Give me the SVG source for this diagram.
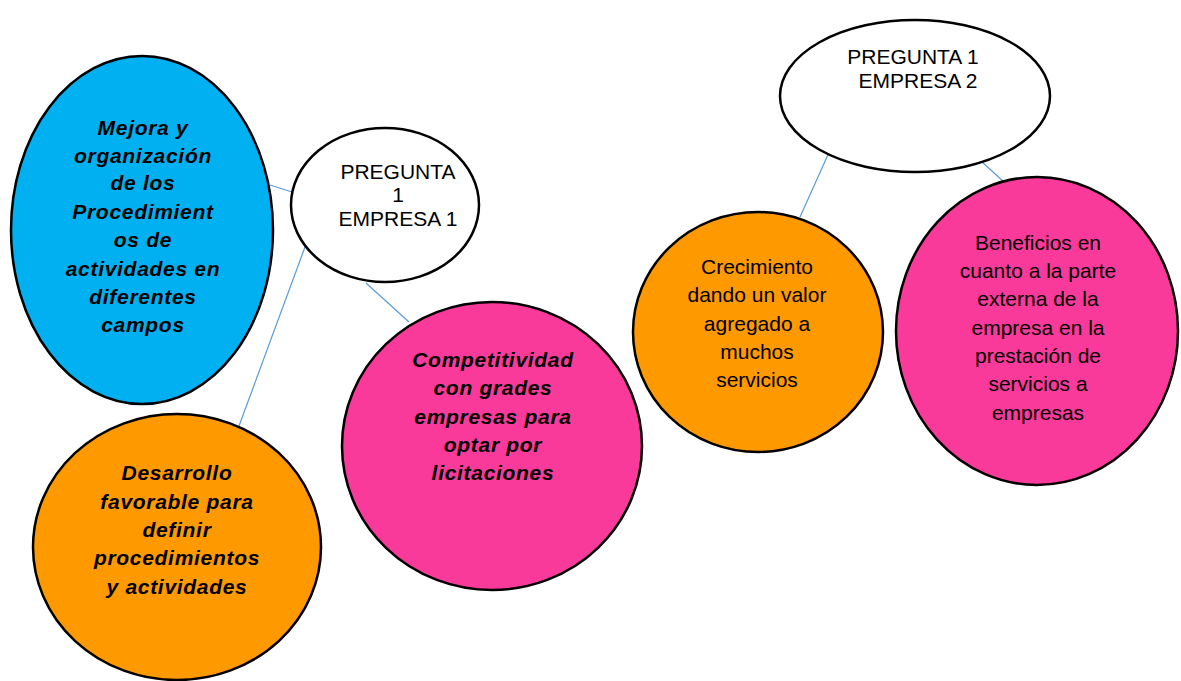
<svg xmlns="http://www.w3.org/2000/svg" width="1181" height="681" viewBox="0 0 1181 681">
<style>
.node{stroke:#000;stroke-width:2.5}
.q{fill:#fff}
.blue{fill:#00B0F0}
.orange{fill:#FF9900}
.pink{fill:#F93A9A}
.conn{stroke:#5B9BD5;stroke-width:1.2;fill:none}
text{font-family:"Liberation Sans",Arial,sans-serif;font-size:21px;fill:#000;text-anchor:middle}
.bi{font-weight:bold;font-style:italic;letter-spacing:0.7px}
</style>
<rect width="1181" height="681" fill="#fff"/>
<g id="connectors">
<line class="conn" x1="270" y1="185" x2="292" y2="192"/>
<line class="conn" x1="305" y1="247" x2="239" y2="426"/>
<line class="conn" x1="366" y1="283" x2="409" y2="322"/>
<line class="conn" x1="831" y1="148" x2="800" y2="217"/>
<line class="conn" x1="982" y1="162" x2="1004" y2="182"/>
</g>
<g id="mejora">
<ellipse class="node blue" cx="142" cy="230" rx="131" ry="174"/>
<text class="bi" x="143" y="135">Mejora y</text>
<text class="bi" x="143" y="163">organización</text>
<text class="bi" x="143" y="190">de los</text>
<text class="bi" x="143" y="219">Procedimient</text>
<text class="bi" x="143" y="247">os de</text>
<text class="bi" x="143" y="276">actividades en</text>
<text class="bi" x="143" y="304">diferentes</text>
<text class="bi" x="143" y="332">campos</text>
</g>
<g id="pregunta1-empresa1">
<ellipse class="node q" cx="385" cy="205" rx="94" ry="77"/>
<text x="398" y="179">PREGUNTA</text>
<text x="398" y="202">1</text>
<text x="398" y="226">EMPRESA 1</text>
</g>
<g id="desarrollo">
<ellipse class="node orange" cx="177" cy="547" rx="144" ry="133"/>
<text class="bi" x="177" y="480">Desarrollo</text>
<text class="bi" x="177" y="509">favorable para</text>
<text class="bi" x="177" y="537">definir</text>
<text class="bi" x="177" y="565">procedimientos</text>
<text class="bi" x="177" y="594">y actividades</text>
</g>
<g id="competitividad">
<ellipse class="node pink" cx="492" cy="446" rx="150" ry="144"/>
<text class="bi" x="493" y="367">Competitividad</text>
<text class="bi" x="493" y="395">con grades</text>
<text class="bi" x="493" y="424">empresas para</text>
<text class="bi" x="493" y="452">optar por</text>
<text class="bi" x="493" y="480">licitaciones</text>
</g>
<g id="pregunta1-empresa2">
<ellipse class="node q" cx="915" cy="96" rx="135" ry="76"/>
<text x="913" y="64">PREGUNTA 1</text>
<text x="918" y="88">EMPRESA 2</text>
</g>
<g id="crecimiento">
<ellipse class="node orange" cx="758" cy="332" rx="125" ry="120"/>
<text x="757" y="274">Crecimiento</text>
<text x="757" y="302">dando un valor</text>
<text x="757" y="331">agregado a</text>
<text x="757" y="359">muchos</text>
<text x="757" y="387">servicios</text>
</g>
<g id="beneficios">
<ellipse class="node pink" cx="1037" cy="331" rx="141" ry="154"/>
<text x="1038" y="250">Beneficios en</text>
<text x="1038" y="278">cuanto a la parte</text>
<text x="1038" y="306">externa de la</text>
<text x="1038" y="335">empresa en la</text>
<text x="1038" y="363">prestación de</text>
<text x="1038" y="391">servicios a</text>
<text x="1038" y="420">empresas</text>
</g>
</svg>
